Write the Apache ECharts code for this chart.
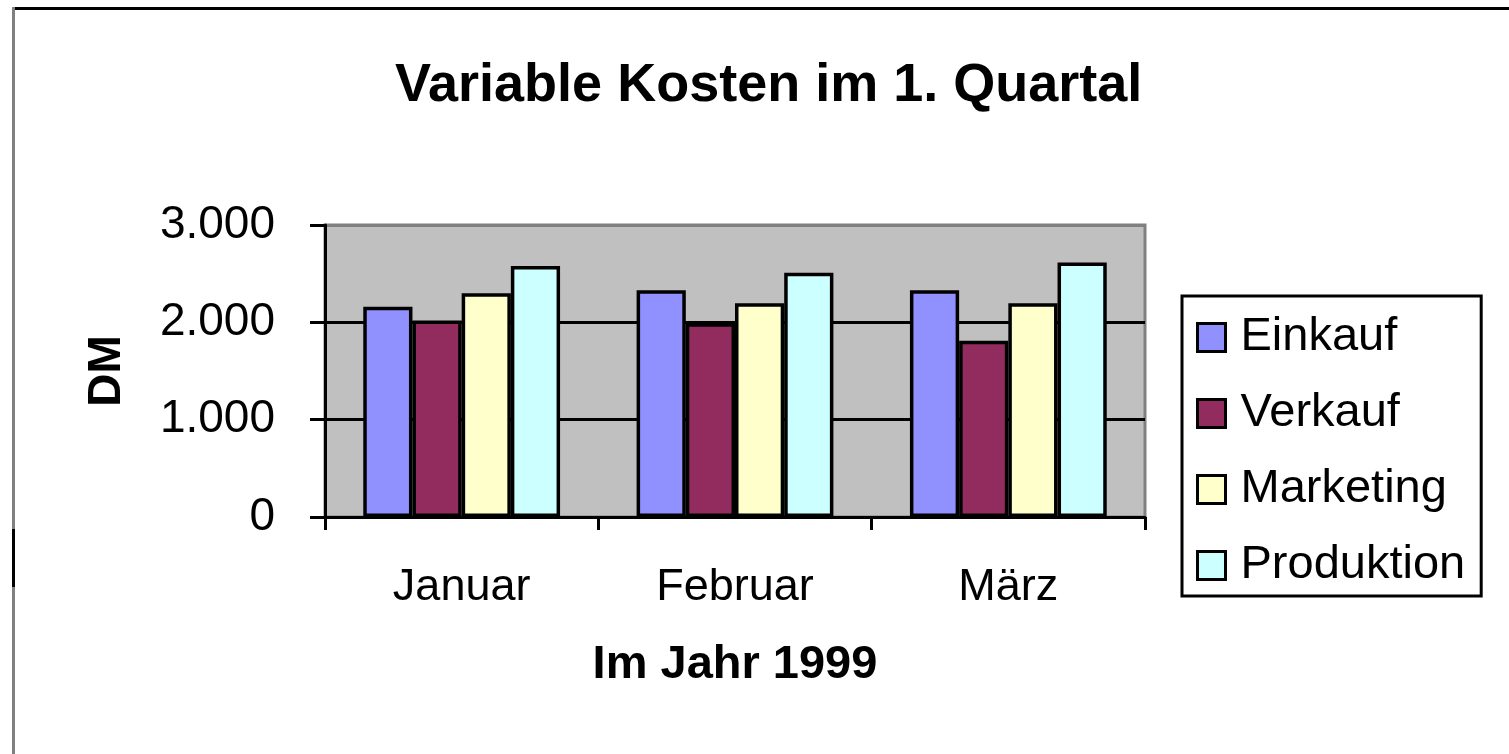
<!DOCTYPE html>
<html>
<head>
<meta charset="utf-8">
<title>Variable Kosten im 1. Quartal</title>
<script src="https://cdn.jsdelivr.net/npm/echarts@6/dist/echarts.min.js"></script>
<style>
  html, body { margin: 0; padding: 0; background: #fff; }
  #chart { width: 1509px; height: 754px; }
</style>
</head>
<body>
<div id="chart"></div>
<script>
/* ---------- Daten ---------- */
const months     = ["Januar", "Februar", "März"];
const einkauf    = [2160, 2330, 2330];
const verkauf    = [2020, 1990, 1810];
const marketing  = [2300, 2195, 2195];
const produktion = [2580, 2510, 2615];
const yTicks     = [0, 1000, 2000, 3000];

const FONT = "'Liberation Sans', Arial, sans-serif";

// 1000 -> "1.000"
const fmtDE = (v) => String(v).replace(/\B(?=(\d{3})+(?!\d))/g, ".");

const chart = echarts.init(document.getElementById("chart"));

const barStyle = (color) => ({
    color: color,
    borderColor: "#000",
    borderWidth: 3.5,
});

const option = {
    backgroundColor: "#fff",
    animation: false,
    textStyle: { fontFamily: FONT },
    title: {
        text: "Variable Kosten im 1. Quartal",
        left: 390,
        top: 54,
        padding: 5,
        textStyle: { fontFamily: FONT, fontSize: 54, fontWeight: "bold", color: "#000" },
    },
    grid: {
        left: 325, top: 225, right: 364, bottom: 237,
        show: true,
        backgroundColor: "#c0c0c0",
        borderColor: "#808080",
        borderWidth: 3,
    },
    legend: {
        orient: "vertical",
        left: 1182,
        top: 296,
        padding: [18, 16, 7, 14],
        borderColor: "#000",
        borderWidth: 3,
        itemWidth: 28,
        itemHeight: 28,
        itemGap: 29,
        icon: "rect",
        itemStyle: { borderColor: "#000", borderWidth: 3 },
        formatter: "{t|{name}}",
        textStyle: {
            fontFamily: FONT,
            fontSize: 47,
            color: "#000",
            rich: { t: { fontFamily: FONT, fontSize: 47, lineHeight: 46, padding: [0, 0, 0, 10], color: "#000" } },
        },
    },
    xAxis: {
        type: "category",
        data: months,
        name: "Im Jahr 1999",
        nameLocation: "middle",
        nameGap: 125,
        nameTextStyle: { fontFamily: FONT, fontSize: 47, fontWeight: "bold", color: "#000" },
        axisLine: { lineStyle: { color: "#000", width: 3 } },
        axisTick: { show: true, length: 13, lineStyle: { color: "#000", width: 3 } },
        axisLabel: { margin: 48, fontFamily: FONT, fontSize: 45, color: "#000" },
    },
    yAxis: {
        type: "value",
        min: yTicks[0],
        max: yTicks[yTicks.length - 1],
        interval: 1000,
        name: "DM",
        nameLocation: "middle",
        nameGap: 195,
        nameTextStyle: { fontFamily: FONT, fontSize: 46, fontWeight: "bold", color: "#000" },
        axisLine: { show: true, lineStyle: { color: "#000", width: 3 } },
        axisTick: { show: true, length: 15, lineStyle: { color: "#000", width: 3 } },
        axisLabel: { margin: 50, fontFamily: FONT, fontSize: 46, color: "#000", formatter: fmtDE },
        splitLine: {
            show: true,
            lineStyle: { color: ["#000", "#000", "#000", "#808080"], width: 3 },
        },
    },
    series: [
        { name: "Einkauf",    type: "bar", data: einkauf,    itemStyle: barStyle("#9090ff"), barGap: "0%", barCategoryGap: "28%" },
        { name: "Verkauf",    type: "bar", data: verkauf,    itemStyle: barStyle("#932c5e") },
        { name: "Marketing",  type: "bar", data: marketing,  itemStyle: barStyle("#ffffcc") },
        { name: "Produktion", type: "bar", data: produktion, itemStyle: barStyle("#ccffff") },
    ],
    // Rahmen des Diagrammbereichs
    graphic: [
        { type: "rect", shape: { x: 13, y: 7, width: 1496, height: 3 }, style: { fill: "#000" }, silent: true },
        { type: "rect", shape: { x: 12, y: 7, width: 3, height: 747 }, style: { fill: "#808080" }, silent: true },
        { type: "rect", shape: { x: 12, y: 529, width: 3, height: 58 }, style: { fill: "#000" }, silent: true },
    ],
};

chart.setOption(option);
window.addEventListener("resize", () => chart.resize());
</script>
</body>
</html>
